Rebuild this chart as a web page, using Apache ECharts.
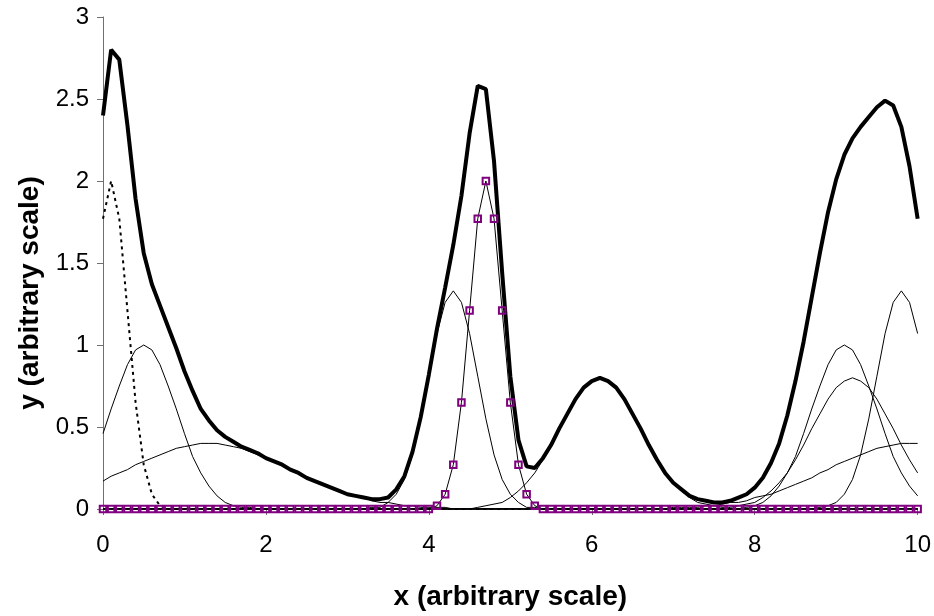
<!DOCTYPE html>
<html>
<head>
<meta charset="utf-8">
<script src="https://cdn.jsdelivr.net/npm/echarts@6/dist/echarts.min.js"></script>
<style>
html,body{margin:0;padding:0;background:#fff;}
#chart{width:934px;height:616px;}
</style>
</head>
<body>
<div id="chart"></div>
<script>
// x positions (arbitrary scale)
const xValues = [
0.0,0.1,0.2,0.3,0.4,0.5,0.6,0.7,0.8,0.9,
1.0,1.1,1.2,1.3,1.4,1.5,1.6,1.7,1.8,1.9,
2.0,2.1,2.2,2.3,2.4,2.5,2.6,2.7,2.8,2.9,
3.0,3.1,3.2,3.3,3.4,3.5,3.6,3.7,3.8,3.9,
4.0,4.1,4.2,4.3,4.4,4.5,4.6,4.7,4.8,4.9,
5.0,5.1,5.2,5.3,5.4,5.5,5.6,5.7,5.8,5.9,
6.0,6.1,6.2,6.3,6.4,6.5,6.6,6.7,6.8,6.9,
7.0,7.1,7.2,7.3,7.4,7.5,7.6,7.7,7.8,7.9,
8.0,8.1,8.2,8.3,8.4,8.5,8.6,8.7,8.8,8.9,
9.0,9.1,9.2,9.3,9.4,9.5,9.6,9.7,9.8,9.9,
10.0];

// sum of all peaks (thick line)
const sumValues = [
2.40,2.80,2.74,2.34,1.89,1.56,1.37,1.24,1.11,0.98,
0.84,0.72,0.61,0.54,0.48,0.44,0.41,0.38,0.36,0.34,
0.31,0.29,0.27,0.24,0.22,0.19,0.17,0.15,0.13,0.11,
0.09,0.08,0.07,0.06,0.06,0.07,0.12,0.20,0.35,0.56,
0.82,1.10,1.35,1.61,1.91,2.29,2.58,2.56,2.12,1.44,
0.81,0.42,0.26,0.25,0.31,0.39,0.49,0.58,0.67,0.74,
0.78,0.80,0.78,0.74,0.67,0.58,0.49,0.39,0.30,0.22,
0.16,0.12,0.08,0.06,0.05,0.04,0.04,0.05,0.07,0.09,
0.13,0.19,0.28,0.40,0.57,0.78,1.02,1.29,1.56,1.81,
2.01,2.16,2.26,2.33,2.39,2.45,2.49,2.46,2.33,2.09,
1.77];

// narrow peak near x=0.1 (dotted line)
const dottedPeak = [
1.77,2.00,1.77,1.21,0.65,0.27,0.09,0.02,0,0,
0,0,0,0,0,0,0,0,0,0,
0,0,0,0,0,0,0,0,0,0,
0,0,0,0,0,0,0,0,0,0,
0,0,0,0,0,0,0,0,0,0,
0,0,0,0,0,0,0,0,0,0,
0,0,0,0,0,0,0,0,0,0,
0,0,0,0,0,0,0,0,0,0,
0,0,0,0,0,0,0,0,0,0,
0,0,0,0,0,0,0,0,0,0,
0];

// narrow peak near x=4.7 (square markers)
const markerPeak = [
0,0,0,0,0,0,0,0,0,0,
0,0,0,0,0,0,0,0,0,0,
0,0,0,0,0,0,0,0,0,0,
0,0,0,0,0,0,0,0,0,0,
0,0.02,0.09,0.27,0.65,1.21,1.77,2.00,1.77,1.21,
0.65,0.27,0.09,0.02,0,0,0,0,0,0,
0,0,0,0,0,0,0,0,0,0,
0,0,0,0,0,0,0,0,0,0,
0,0,0,0,0,0,0,0,0,0,
0,0,0,0,0,0,0,0,0,0,
0];

// thin component peaks
const peakA = [ // centre 0.5
0.46,0.61,0.75,0.88,0.97,1.00,0.97,0.88,0.75,0.61,
0.46,0.32,0.22,0.14,0.08,0.04,0.02,0.01,0.01,0,
0,0,0,0,0,0,0,0,0,0,
0,0,0,0,0,0,0,0,0,0,
0,0,0,0,0,0,0,0,0,0,
0,0,0,0,0,0,0,0,0,0,
0,0,0,0,0,0,0,0,0,0,
0,0,0,0,0,0,0,0,0,0,
0,0,0,0,0,0,0,0,0,0,
0,0,0,0,0,0,0,0,0,0,
0];
const peakB = [ // broad, centre 1.3
0.17,0.20,0.22,0.24,0.27,0.29,0.31,0.33,0.35,0.37,
0.38,0.39,0.40,0.40,0.40,0.39,0.38,0.37,0.35,0.33,
0.31,0.29,0.27,0.24,0.22,0.19,0.17,0.15,0.13,0.11,
0.09,0.08,0.07,0.05,0.04,0.04,0.03,0.02,0.02,0.01,
0.01,0.01,0.01,0,0,0,0,0,0,0,
0,0,0,0,0,0,0,0,0,0,
0,0,0,0,0,0,0,0,0,0,
0,0,0,0,0,0,0,0,0,0,
0,0,0,0,0,0,0,0,0,0,
0,0,0,0,0,0,0,0,0,0,
0];
const peakC = [ // centre 4.3
0,0,0,0,0,0,0,0,0,0,
0,0,0,0,0,0,0,0,0,0,
0,0,0,0,0,0,0,0,0,0,
0,0,0,0.01,0.01,0.04,0.09,0.18,0.33,0.55,
0.81,1.07,1.26,1.33,1.26,1.07,0.81,0.55,0.33,0.18,
0.09,0.04,0.01,0.01,0,0,0,0,0,0,
0,0,0,0,0,0,0,0,0,0,
0,0,0,0,0,0,0,0,0,0,
0,0,0,0,0,0,0,0,0,0,
0,0,0,0,0,0,0,0,0,0,
0];
const peakD = [ // centre 6.1
0,0,0,0,0,0,0,0,0,0,
0,0,0,0,0,0,0,0,0,0,
0,0,0,0,0,0,0,0,0,0,
0,0,0,0,0,0,0,0,0,0,
0,0,0,0,0,0,0.01,0.02,0.03,0.04,
0.07,0.11,0.16,0.22,0.30,0.39,0.49,0.58,0.67,0.74,
0.78,0.80,0.78,0.74,0.67,0.58,0.49,0.39,0.30,0.22,
0.16,0.11,0.07,0.04,0.03,0.02,0.01,0,0,0,
0,0,0,0,0,0,0,0,0,0,
0,0,0,0,0,0,0,0,0,0,
0];
const peakE = [ // centre 9.1
0,0,0,0,0,0,0,0,0,0,
0,0,0,0,0,0,0,0,0,0,
0,0,0,0,0,0,0,0,0,0,
0,0,0,0,0,0,0,0,0,0,
0,0,0,0,0,0,0,0,0,0,
0,0,0,0,0,0,0,0,0,0,
0,0,0,0,0,0,0,0,0,0,
0,0,0,0,0,0,0,0,0,0.01,
0.02,0.04,0.08,0.14,0.22,0.32,0.46,0.61,0.75,0.88,
0.97,1.00,0.97,0.88,0.75,0.61,0.46,0.32,0.22,0.14,
0.08];
const peakF = [ // centre 9.2
0,0,0,0,0,0,0,0,0,0,
0,0,0,0,0,0,0,0,0,0,
0,0,0,0,0,0,0,0,0,0,
0,0,0,0,0,0,0,0,0,0,
0,0,0,0,0,0,0,0,0,0,
0,0,0,0,0,0,0,0,0,0,
0,0,0,0,0,0,0,0,0,0,
0,0,0,0,0,0,0,0.01,0.02,0.03,
0.04,0.07,0.11,0.16,0.22,0.30,0.39,0.49,0.58,0.67,
0.74,0.78,0.80,0.78,0.74,0.67,0.58,0.49,0.39,0.30,
0.22];
const peakG = [ // centre 9.8
0,0,0,0,0,0,0,0,0,0,
0,0,0,0,0,0,0,0,0,0,
0,0,0,0,0,0,0,0,0,0,
0,0,0,0,0,0,0,0,0,0,
0,0,0,0,0,0,0,0,0,0,
0,0,0,0,0,0,0,0,0,0,
0,0,0,0,0,0,0,0,0,0,
0,0,0,0,0,0,0,0,0,0,
0,0,0,0,0,0,0,0,0.01,0.02,
0.04,0.09,0.18,0.33,0.55,0.81,1.07,1.26,1.33,1.26,
1.07];
const peakH = [ // broad, centre 9.9
0,0,0,0,0,0,0,0,0,0,
0,0,0,0,0,0,0,0,0,0,
0,0,0,0,0,0,0,0,0,0,
0,0,0,0,0,0,0,0,0,0,
0,0,0,0,0,0,0,0,0,0,
0,0,0,0,0,0,0,0,0,0,
0,0,0,0,0,0,0,0,0,0,
0.01,0.01,0.01,0.01,0.02,0.02,0.03,0.04,0.04,0.05,
0.07,0.08,0.09,0.11,0.13,0.15,0.17,0.19,0.22,0.24,
0.27,0.29,0.31,0.33,0.35,0.37,0.38,0.39,0.40,0.40,
0.40];

const yTicks = [0, 0.5, 1, 1.5, 2, 2.5, 3];
const xTicks = [0, 2, 4, 6, 8, 10];

function pairs(ys) { return xValues.map((x, i) => [x, ys[i]]); }

const FONT = '"Liberation Sans", Arial, sans-serif';
const thinPeaks = [peakA, peakB, peakC, peakD, peakE, peakF, peakG, peakH];

const series = [];
thinPeaks.forEach(p => series.push({
  type: 'line', data: pairs(p), symbol: 'none', silent: true,
  lineStyle: { color: '#000', width: 1 }, z: 2
}));
series.push({
  type: 'line', data: pairs(dottedPeak), symbol: 'none',
  lineStyle: { color: '#000', width: 2, type: [3, 4] }, z: 3
});
series.push({
  type: 'line', data: pairs(sumValues), symbol: 'none',
  lineStyle: { color: '#000', width: 4 }, z: 4
});
series.push({
  type: 'line', data: pairs(markerPeak), symbol: 'rect', symbolSize: 6.5,
  showSymbol: true, showAllSymbol: true,
  lineStyle: { color: '#000', width: 1 },
  itemStyle: { color: 'rgba(0,0,0,0)', borderColor: '#800080', borderWidth: 2 },
  z: 5
});

const chart = echarts.init(document.getElementById('chart'), null, { renderer: 'canvas' });
chart.setOption({
  animation: false,
  backgroundColor: '#fff',
  grid: { left: 103, right: 13, top: 17, bottom: 101 },
  xAxis: {
    type: 'value', min: xTicks[0], max: xTicks[xTicks.length - 1], interval: 2,
    name: 'x (arbitrary scale)', nameLocation: 'middle', nameGap: 74,
    nameTextStyle: { fontFamily: FONT, fontSize: 28, fontWeight: 'bold', color: '#000' },
    axisLine: { show: true, onZero: false, lineStyle: { color: '#707070', width: 1 } },
    axisTick: { show: true, inside: false, length: 6, lineStyle: { color: '#707070' } },
    axisLabel: { fontFamily: FONT, fontSize: 24, color: '#000', margin: 24 },
    splitLine: { show: false }
  },
  yAxis: {
    type: 'value', min: yTicks[0], max: yTicks[yTicks.length - 1], interval: 0.5,
    name: 'y (arbitrary scale)', nameLocation: 'middle', nameGap: 58,
    nameTextStyle: { fontFamily: FONT, fontSize: 28, fontWeight: 'bold', color: '#000', padding: [0, 60, 0, 0] },
    axisLine: { show: true, lineStyle: { color: '#707070', width: 1 } },
    axisTick: { show: true, inside: false, length: 6, lineStyle: { color: '#707070' } },
    axisLabel: { fontFamily: FONT, fontSize: 24, color: '#000', margin: 14 },
    splitLine: { show: false }
  },
  series: series
});
</script>
</body>
</html>
